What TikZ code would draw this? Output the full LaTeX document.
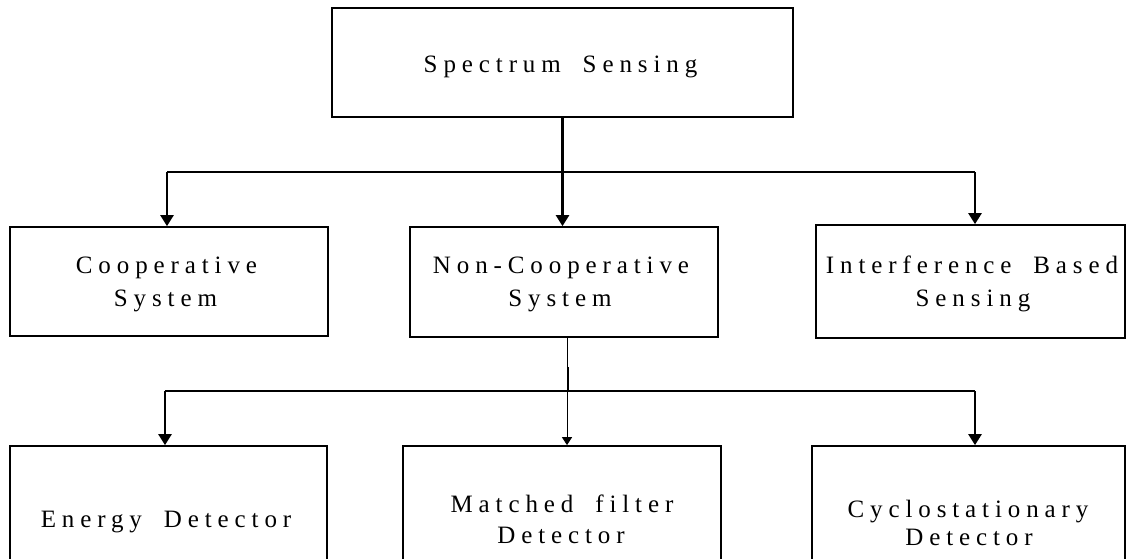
\documentclass[tikz,border=0pt]{standalone}
\usepackage{fontspec}
\setmainfont{Liberation Serif}[LetterSpace=23.6, WordSpace=1.8]
\usetikzlibrary{arrows.meta}
\begin{document}
\begin{tikzpicture}[x=1pt,y=-1pt,
  box/.style={draw=black, line width=1.7pt, inner sep=0pt, fill=none},
  lbl/.style={anchor=base, inner sep=0pt, font=\fontsize{25}{30}\selectfont},
  hline/.style={line width=1.5pt},
  arr/.style={line width=2.4pt, -{Triangle[width=13pt,length=11pt]}},
  thinarr/.style={line width=1pt, -{Triangle[width=10pt,length=8pt]}},
  stub/.style={line width=2.4pt}]
\clip (0,0) rectangle (1127,558);
\fill[white] (0,0) rectangle (1127,558);
% boxes
\node[box, minimum width=461pt, minimum height=109pt] (top) at (562.5,62.5) {};
\node[box, minimum width=318pt, minimum height=109pt] (coop) at (169,281.5) {};
\node[box, minimum width=308pt, minimum height=110pt] (noncoop) at (564,282) {};
\node[box, minimum width=309pt, minimum height=113pt] (interf) at (970.5,281.5) {};
\node[box, minimum width=317pt, minimum height=134pt] (energy) at (168.5,513) {};
\node[box, minimum width=318pt, minimum height=134pt] (matched) at (562,513) {};
\node[box, minimum width=313pt, minimum height=134pt] (cyclo) at (968.5,513) {};
% labels
\node[lbl] (ttop) at (560.5,72) {Spectrum Sensing};
\node[lbl] (tcoopa) at (166.5,273) {Cooperative};
\node[lbl] (tcoopb) at (165.5,306) {System};
\node[lbl] (tnona) at (561,273) {Non-Cooperative};
\node[lbl] (tnonb) at (560,306) {System};
\node[lbl] (tinta) at (972,273) {Interference Based};
\node[lbl] (tintb) at (973,306) {Sensing};
\node[lbl] (tene) at (166,527) {Energy Detector};
\node[lbl] (tmata) at (562,512) {Matched filter};
\node[lbl] (tmatb) at (561,543) {Detector};
\node[lbl] (tcyca) at (968,517) {Cyclostationary};
\node[lbl] (tcycb) at (969,545) {Detector};
% upper connectors
\coordinate (ua) at (167,172);
\coordinate (ub) at (975,172);
\draw[arr] (top.south) -- (top.south |- noncoop.north);
\draw[hline] (ua) -- (ub);
\draw[arr] (ua) -- (ua |- coop.north);
\draw[arr] (ub) -- (ub |- interf.north);
% lower connectors
\coordinate (m0) at (567,0);
\coordinate (s1) at (568,367);
\coordinate (s2) at (568,391);
\coordinate (la) at (165,391);
\coordinate (lb) at (975,391);
\draw[thinarr] (m0 |- noncoop.south) -- (m0 |- matched.north);
\draw[stub] (s1) -- (s2);
\draw[hline] (la) -- (lb);
\draw[arr] (la) -- (la |- energy.north);
\draw[arr] (lb) -- (lb |- cyclo.north);
\end{tikzpicture}
\end{document}
